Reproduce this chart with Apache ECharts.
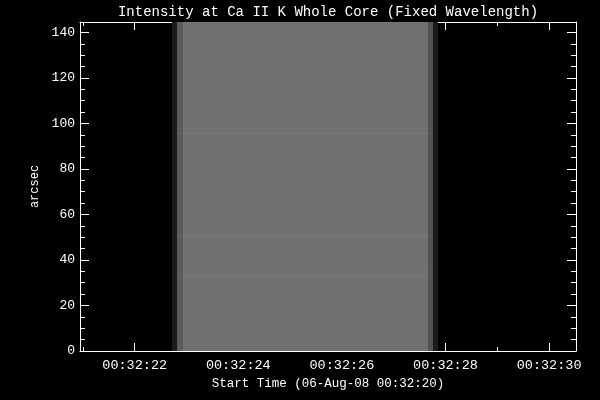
<!DOCTYPE html>
<html><head><meta charset="utf-8">
<script src="https://cdn.jsdelivr.net/npm/echarts@6/dist/echarts.min.js"></script>
<style>html,body{margin:0;padding:0;background:#000}#c{width:600px;height:400px}</style>
</head><body><div id="c"></div>
<script>
// ---- text ----
const titleText = 'Intensity at Ca II K Whole Core (Fixed Wavelength)';
const xAxisName = 'Start Time (06-Aug-08 00:32:20)';
const yAxisName = 'arcsec';
// ---- axes (x in seconds after 00:32:00) ----
const xMin = 20.944, xMax = 30.519;
const yMin = 0, yMax = 144.6;
const xMajorTicks = [22, 24, 26, 28, 30];
const xMinorTicks = [21, 23, 25, 27, 29];
const yMajorTicks = [0, 20, 40, 60, 80, 100, 120, 140];
const yMinorTicks = [5, 10, 15, 25, 30, 35, 45, 50, 55, 65, 70, 75, 85, 90, 95, 105, 110, 115, 125, 130, 135];
// ---- image columns (time bins) ----
const colStart = [22.720, 22.817, 22.932, 27.662, 27.759];
const colEnd   = [22.817, 22.932, 27.662, 27.759, 27.855];
const colLevel = [28, 92, 113, 82, 26];
// ---- faint horizontal stripes (arcsec, brightness change) ----
const stripeArcsec = [95.6, 52.1, 50.4, 37.6, 33.2];
const stripeDelta  = [7, -3, 10, 3, 7];
const stripeHalf = 0.22;

const cells = [];
for (let i = 0; i < colStart.length; i++) {
  cells.push([colStart[i], colEnd[i], yMin, yMax, colLevel[i]]);
}
for (let i = 0; i < colStart.length; i++) {
  if (colLevel[i] < 50) continue;
  for (let j = 0; j < stripeArcsec.length; j++) {
    const g = Math.round(colLevel[i] + stripeDelta[j] * colLevel[i] / 113);
    cells.push([colStart[i], colEnd[i], stripeArcsec[j] - stripeHalf, stripeArcsec[j] + stripeHalf, g]);
  }
}

const pad = v => (v < 10 ? '0' : '') + v;
const xFmt = v => '00:32:' + pad(Math.round(v));
const W = '#ffffff';
const tickFont = 'Liberation Mono';

function xAx(pos, ticks, len, labels, line) {
  return {
    type: 'value', position: pos, min: xMin, max: xMax, gridIndex: 0,
    axisLine: {show: line, onZero: false, lineStyle: {color: W, width: 1}},
    axisTick: {show: true, inside: true, length: len, customValues: ticks, lineStyle: {color: W, width: 1}},
    axisLabel: {show: labels, customValues: ticks, formatter: xFmt, color: W, fontFamily: tickFont, fontSize: 13.5, margin: 7},
    splitLine: {show: false},
    name: labels ? xAxisName : '', nameLocation: 'middle', nameGap: 23,
    nameTextStyle: {color: W, fontFamily: tickFont, fontSize: 12.5}
  };
}
function yAx(pos, ticks, len, labels, line) {
  return {
    type: 'value', position: pos, min: yMin, max: yMax, gridIndex: 0,
    axisLine: {show: line, onZero: false, lineStyle: {color: W, width: 1}},
    axisTick: {show: true, inside: true, length: len, customValues: ticks, lineStyle: {color: W, width: 1}},
    axisLabel: {show: labels, customValues: ticks, color: W, fontFamily: tickFont, fontSize: 13, margin: 5},
    splitLine: {show: false},
    name: labels ? yAxisName : '', nameLocation: 'middle', nameGap: 39, nameRotate: 90,
    nameTextStyle: {color: W, fontFamily: tickFont, fontSize: 12}
  };
}

const chart = echarts.init(document.getElementById('c'), null, {renderer: 'canvas'});
chart.setOption({
  backgroundColor: '#000000',
  animation: false,
  grid: {left: 80, right: 24, top: 22, bottom: 49, containLabel: false},
  graphic: [{
    type: 'text', x: 328, y: 12,
    style: {text: titleText, fill: W, font: '14px "Liberation Mono"', textAlign: 'center', textVerticalAlign: 'middle'}
  }],
  xAxis: [
    xAx('bottom', xMajorTicks, 8, true, true),
    xAx('bottom', xMinorTicks, 4, false, false),
    xAx('top', xMajorTicks, 8, false, true),
    xAx('top', xMinorTicks, 4, false, false)
  ],
  yAxis: [
    yAx('left', yMajorTicks, 9, true, true),
    yAx('left', yMinorTicks, 5, false, false),
    yAx('right', yMajorTicks, 9, false, true),
    yAx('right', yMinorTicks, 5, false, false)
  ],
  series: [{
    type: 'custom', xAxisIndex: 0, yAxisIndex: 0, z: 1, clip: true,
    dimensions: ['t0', 't1', 'y0', 'y1', 'level'],
    encode: {x: [0, 1], y: [2, 3]},
    data: cells,
    renderItem: function (params, api) {
      const p0 = api.coord([api.value(0), api.value(3)]);
      const p1 = api.coord([api.value(1), api.value(2)]);
      const g = api.value(4);
      return {
        type: 'rect',
        shape: {x: p0[0], y: p0[1], width: p1[0] - p0[0], height: p1[1] - p0[1]},
        style: {fill: 'rgb(' + g + ',' + g + ',' + g + ')'}
      };
    }
  }]
});
</script>
</body></html>
